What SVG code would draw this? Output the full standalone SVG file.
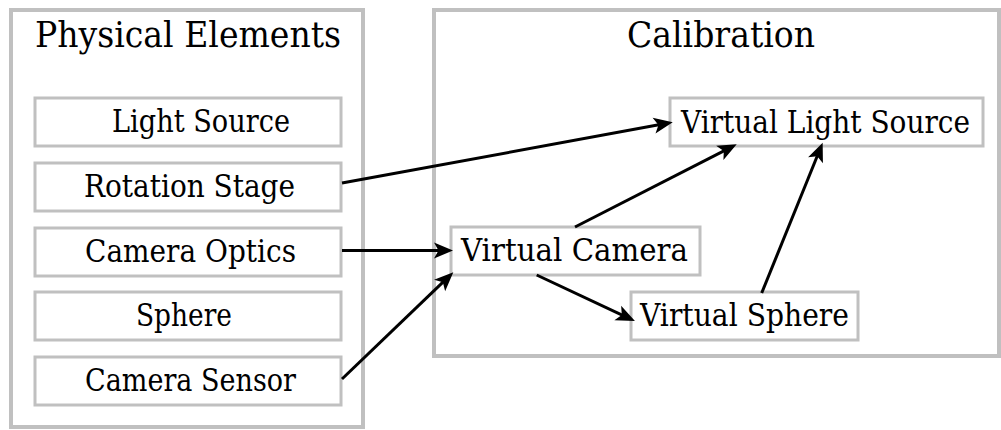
<svg xmlns="http://www.w3.org/2000/svg" width="1001" height="430" viewBox="0 0 1001 430">
<style>
.outer{fill:#fff;stroke:#c0c0c0;stroke-width:4}
.box{fill:#fff;stroke:#c0c0c0;stroke-width:3}
.t{font-family:'DejaVu Serif','Liberation Serif',serif;font-size:31px;fill:#000;text-anchor:middle}
.title{font-family:'DejaVu Serif','Liberation Serif',serif;font-size:35px;fill:#000;text-anchor:middle}
.c{fill:none;stroke:#000;stroke-width:3;marker-end:url(#ah)}
</style>
<defs>
<marker id="ah" markerUnits="userSpaceOnUse" markerWidth="30" markerHeight="30" refX="0" refY="0" viewBox="-15 -15 30 30" orient="auto" overflow="visible">
<path d="M10,0 L-9,-8 L-4.5,0 L-9,8 Z" fill="#000"/>
</marker>
</defs>
<rect width="1001" height="430" fill="#fff"/>
<g id="physical">
<rect class="outer" x="11" y="10" width="352" height="417"/>
<text class="title" x="188" y="47" textLength="306" lengthAdjust="spacingAndGlyphs">Physical Elements</text>
</g>
<g id="calibration">
<rect class="outer" x="434" y="10" width="565" height="346"/>
<text class="title" x="721" y="47" textLength="188" lengthAdjust="spacingAndGlyphs">Calibration</text>
</g>
<g id="light-source">
<rect class="box" x="35" y="98" width="306" height="48"/>
<text class="t" x="201" y="132" textLength="178" lengthAdjust="spacingAndGlyphs">Light Source</text>
</g>
<g id="rotation-stage">
<rect class="box" x="35" y="163" width="306" height="48"/>
<text class="t" x="189.5" y="197" textLength="211" lengthAdjust="spacingAndGlyphs">Rotation Stage</text>
</g>
<g id="camera-optics">
<rect class="box" x="35" y="228" width="306" height="48"/>
<text class="t" x="190.5" y="262" textLength="211" lengthAdjust="spacingAndGlyphs">Camera Optics</text>
</g>
<g id="sphere">
<rect class="box" x="35" y="292" width="306" height="48"/>
<text class="t" x="184" y="326" textLength="96" lengthAdjust="spacingAndGlyphs">Sphere</text>
</g>
<g id="camera-sensor">
<rect class="box" x="35" y="357" width="306" height="48"/>
<text class="t" x="190.5" y="391" textLength="211" lengthAdjust="spacingAndGlyphs">Camera Sensor</text>
</g>
<g id="virtual-light-source">
<rect class="box" x="670" y="98" width="313" height="48"/>
<text class="t" x="825.5" y="133" textLength="289" lengthAdjust="spacingAndGlyphs">Virtual Light Source</text>
</g>
<g id="virtual-camera">
<rect class="box" x="451" y="227" width="249" height="48"/>
<text class="t" x="574.5" y="261" textLength="227" lengthAdjust="spacingAndGlyphs">Virtual Camera</text>
</g>
<g id="virtual-sphere">
<rect class="box" x="631" y="292" width="227" height="48"/>
<text class="t" x="744.5" y="326" textLength="209" lengthAdjust="spacingAndGlyphs">Virtual Sphere</text>
</g>
<g id="connectors">
<line class="c" x1="342" y1="183" x2="662.9" y2="124.1"/>
<line class="c" x1="342" y1="250.5" x2="443" y2="250.5"/>
<line class="c" x1="342" y1="379" x2="446.1" y2="279.2"/>
<line class="c" x1="575" y1="227" x2="727.8" y2="148.9"/>
<line class="c" x1="536.7" y1="275" x2="625.9" y2="316.8"/>
<line class="c" x1="761.7" y1="293" x2="818.9" y2="152"/>
</g>
</svg>
